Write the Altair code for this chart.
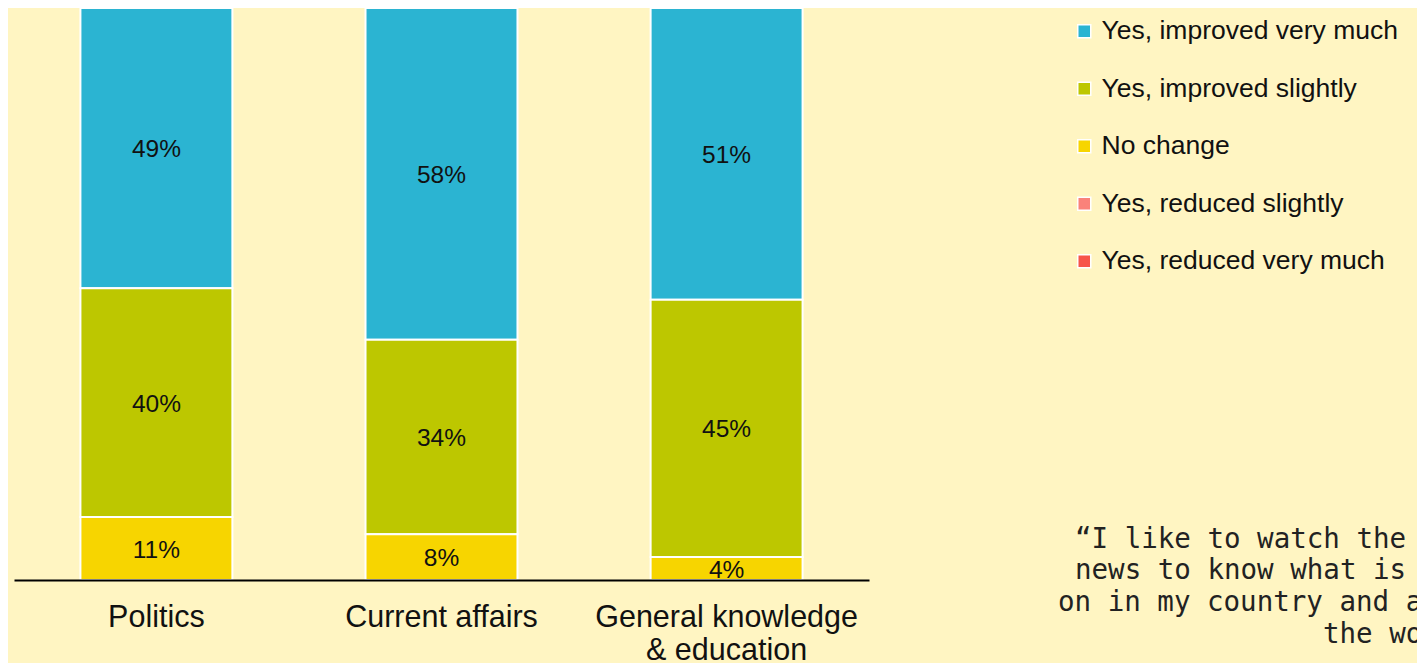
import altair as alt
import pandas as pd

categories = ["Politics", "Current affairs", "General knowledge & education"]
responses = ["Yes, improved very much", "Yes, improved slightly", "No change",
             "Yes, reduced slightly", "Yes, reduced very much"]
colors = ["#2bb4d2", "#bdc700", "#f7d500", "#fa827a", "#f7544a"]
improved_very_much = [49, 58, 51]
improved_slightly = [40, 34, 45]
no_change = [11, 8, 4]
reduced_slightly = [0, 0, 0]
reduced_very_much = [0, 0, 0]
quote_lines = ["\u201cI like to watch the", "news to know what is",
               "on in my country and a", "the wo"]

series = [improved_very_much, improved_slightly, no_change, reduced_slightly, reduced_very_much]
rows = []
for r_i, (resp, vals) in enumerate(zip(responses, series)):
    for cat, v in zip(categories, vals):
        rows.append({"category": cat, "response": resp, "value": v,
                     "rank": len(responses) - r_i})
df = pd.DataFrame(rows)

base = alt.Chart(df).transform_filter("datum.value > 0").transform_stack(
    stack="value", groupby=["category"], as_=["y0", "y1"],
    sort=[alt.SortField("rank", order="ascending")]
).transform_calculate(mid="(datum.y0 + datum.y1) / 2",
                      label="datum.value + '%'")

x_enc = alt.X("category:N", sort=categories, title=None,
              scale=alt.Scale(paddingInner=0.467, paddingOuter=0.233),
              axis=alt.Axis(labelAngle=0, ticks=False, domainColor="#000000",
                            domainWidth=2, labelFontSize=30.5, zindex=1,
                            labelFont="Liberation Sans", labelColor="#111111",
                            labelPadding=22, labelLineHeight=33, labelLimit=600,
                            labelExpr="datum.value == 'General knowledge & education' ? ['General knowledge', '& education'] : datum.value"))

bars = base.mark_bar(stroke="white", strokeWidth=2).encode(
    x=x_enc,
    y=alt.Y("y0:Q", scale=alt.Scale(domain=[0, 100]), axis=None),
    y2="y1:Q",
    fill=alt.Fill("response:N", scale=alt.Scale(domain=responses, range=colors),
                  legend=alt.Legend(title=None, orient="none", legendX=1057, legendY=10,
                                    labelFontSize=26.5, labelFont="Liberation Sans",
                                    labelColor="#111111", symbolType="square",
                                    symbolSize=169, symbolStrokeColor="white",
                                    symbolStrokeWidth=1.5, rowPadding=30.5,
                                    labelOffset=4, labelLimit=600)),
)

labels = base.mark_text(fontSize=24.5, font="Liberation Sans", color="#111111",
                        baseline="middle", dy=2).encode(
    x=alt.X("category:N", sort=categories),
    y=alt.Y("mid:Q"),
    text="label:N",
)

quote_font = dict(font="DejaVu Sans Mono", fontSize=27.5, color="#222222",
                  align="left", baseline="alphabetic")
quote_pos = [(1061, 540), (1061, 571), (1044, 603), (1309, 635)]
quote_layers = []
for line, (qx, qy) in zip(quote_lines, quote_pos):
    quote_layers.append(
        alt.Chart(pd.DataFrame({"t": [line]})).mark_text(**quote_font).encode(
            x=alt.value(qx), y=alt.value(qy), text="t:N"))

chart = alt.layer(bars, labels, *quote_layers).properties(
    width=855, height=572,
    background="#fff5c2",
    padding={"left": 6, "top": 0, "right": 548, "bottom": 83},
    autosize=alt.AutoSizeParams(type="none"),
).configure_view(stroke=None)

chart.save("out.html", embed_options={"renderer": "svg", "actions": False})
